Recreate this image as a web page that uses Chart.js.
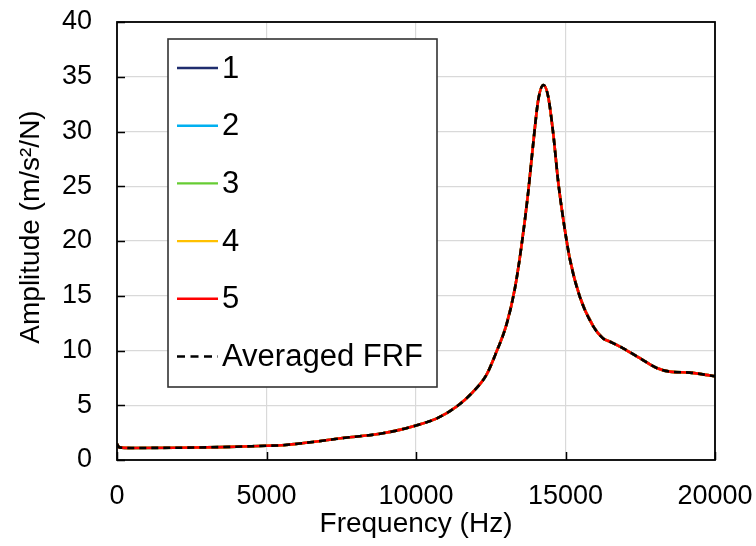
<!DOCTYPE html>
<html>
<head>
<meta charset="utf-8">
<script src="https://cdn.jsdelivr.net/npm/chart.js@4/dist/chart.umd.min.js"></script>
<style>
  html, body { margin: 0; padding: 0; background: #fff; }
  #wrap { width: 756px; height: 546px; }
</style>
</head>
<body>
<div id="wrap"><canvas id="c" width="756" height="546"></canvas></div>
<script>
// ---- data ----
const frequencyHz = [0, 80, 500, 2000, 3500, 5000, 5500, 6550, 7700, 8800, 9450, 10000, 10700, 11350, 11900, 12350, 12650, 13030, 13310, 13530, 13750, 13920, 14090, 14260, 14420, 14590, 14760, 14930, 15150, 15480, 15930, 16260, 16490, 16930, 17490, 18050, 18490, 19160, 19940, 20000];
const amplitude1 = [1.45, 1.15, 1.1, 1.12, 1.18, 1.3, 1.34, 1.65, 2.05, 2.4, 2.75, 3.15, 3.8, 4.87, 6.2, 7.75, 9.6, 12.4, 15.7, 19.6, 24.4, 28.9, 32.9, 34.25, 33.2, 29.8, 25.3, 21.9, 18.3, 14.9, 12.2, 11.1, 10.8, 10.2, 9.3, 8.4, 8.07, 7.98, 7.67, 7.65];
const amplitude2 = amplitude1.slice();
const amplitude3 = amplitude1.slice();
const amplitude4 = amplitude1.slice();
const amplitude5 = amplitude1.slice();
const averagedFRF = amplitude1.slice();
const seriesLabels = ["1", "2", "3", "4", "5", "Averaged FRF"];
const seriesColors = ["#1f2d6e", "#00b0f0", "#66cc33", "#ffc000", "#ff0000", "#000000"];
const xTicks = [0, 5000, 10000, 15000, 20000];
const yTicks = [0, 5, 10, 15, 20, 25, 30, 35, 40];
const xTitle = "Frequency (Hz)";
const yTitle = "Amplitude (m/s²/N)";

const allSeries = [amplitude1, amplitude2, amplitude3, amplitude4, amplitude5, averagedFRF];
const FONT = "'Liberation Sans', Arial, sans-serif";

const datasets = allSeries.map((arr, i) => ({
  label: seriesLabels[i],
  data: frequencyHz.map((f, k) => ({ x: f, y: arr[k] })),
  borderColor: seriesColors[i],
  backgroundColor: seriesColors[i],
  borderWidth: 2.6,
  borderDash: i === 5 ? [7, 5] : [],
  pointRadius: 0,
  cubicInterpolationMode: 'monotone',
  fill: false,
  order: 5 - i
}));

const framePlugin = {
  id: 'frame',
  afterDraw(chart) {
    const ctx = chart.ctx;
    const a = chart.chartArea;
    const xs = chart.scales.x, ys = chart.scales.y;
    ctx.save();
    // inward ticks
    ctx.strokeStyle = '#000';
    ctx.lineWidth = 1.5;
    ctx.beginPath();
    yTicks.forEach(v => {
      const p = Math.round(ys.getPixelForValue(v)) + 0.5;
      ctx.moveTo(a.left, p); ctx.lineTo(a.left + 8, p);
    });
    xTicks.forEach(v => {
      const p = Math.round(xs.getPixelForValue(v)) + 0.5;
      ctx.moveTo(p, a.bottom); ctx.lineTo(p, a.bottom - 8);
    });
    ctx.stroke();
    // frame
    ctx.lineWidth = 1.8;
    ctx.strokeRect(a.left, a.top, a.right - a.left, a.bottom - a.top);
    // y axis title
    ctx.save();
    ctx.translate(31, 227);
    ctx.rotate(-Math.PI / 2);
    ctx.font = '28px ' + FONT;
    ctx.fillStyle = '#000';
    ctx.textAlign = 'center';
    ctx.textBaseline = 'middle';
    ctx.fillText(yTitle, 0, 0);
    ctx.restore();
    // legend box
    const bx = 168, by = 39, bw = 269, bh = 348;
    ctx.fillStyle = '#fff';
    ctx.fillRect(bx, by, bw, bh);
    ctx.strokeStyle = '#333';
    ctx.lineWidth = 1.6;
    ctx.strokeRect(bx, by, bw, bh);
    ctx.font = '31px ' + FONT;
    ctx.textBaseline = 'middle';
    ctx.textAlign = 'left';
    chart.data.datasets.forEach((ds, i) => {
      const y = 68 + i * 57.7;
      ctx.beginPath();
      ctx.strokeStyle = ds.borderColor;
      ctx.lineWidth = 2.4;
      ctx.setLineDash(ds.borderDash && ds.borderDash.length ? [8, 5.5] : []);
      ctx.moveTo(177, y); ctx.lineTo(218, y);
      ctx.stroke();
      ctx.setLineDash([]);
      ctx.fillStyle = '#000';
      ctx.fillText(ds.label, 222, y + 1);
    });
    ctx.restore();
  }
};

new Chart(document.getElementById('c'), {
  type: 'line',
  data: { datasets },
  plugins: [framePlugin],
  options: {
    responsive: false,
    animation: false,
    devicePixelRatio: 1,
    layout: { padding: { top: 22, right: 41, left: 0, bottom: 0 } },
    plugins: { legend: { display: false }, tooltip: { enabled: false } },
    scales: {
      x: {
        type: 'linear',
        min: 0, max: 20000,
        afterBuildTicks: s => { s.ticks = xTicks.map(v => ({ value: v })); },
        afterFit: s => { s.height = 86; s.paddingLeft = 0; s.paddingRight = 0; },
        ticks: { color: '#000', font: { family: FONT, size: 27 }, padding: 20, maxRotation: 0, callback: v => String(v) },
        grid: { color: '#d9d9d9', lineWidth: 1.2, drawTicks: false },
        border: { display: false },
        title: { display: true, text: xTitle, color: '#000', font: { family: FONT, size: 28 }, padding: { top: 0, bottom: 5 } }
      },
      y: {
        type: 'linear',
        min: 0, max: 40,
        afterBuildTicks: s => { s.ticks = yTicks.map(v => ({ value: v })); },
        afterFit: s => { s.width = 117; s.paddingTop = 0; s.paddingBottom = 0; },
        ticks: { color: '#000', font: { family: FONT, size: 27 }, padding: 25 },
        grid: { color: '#d9d9d9', lineWidth: 1.2, drawTicks: false },
        border: { display: false },
        title: { display: false }
      }
    }
  }
});
</script>
</body>
</html>
